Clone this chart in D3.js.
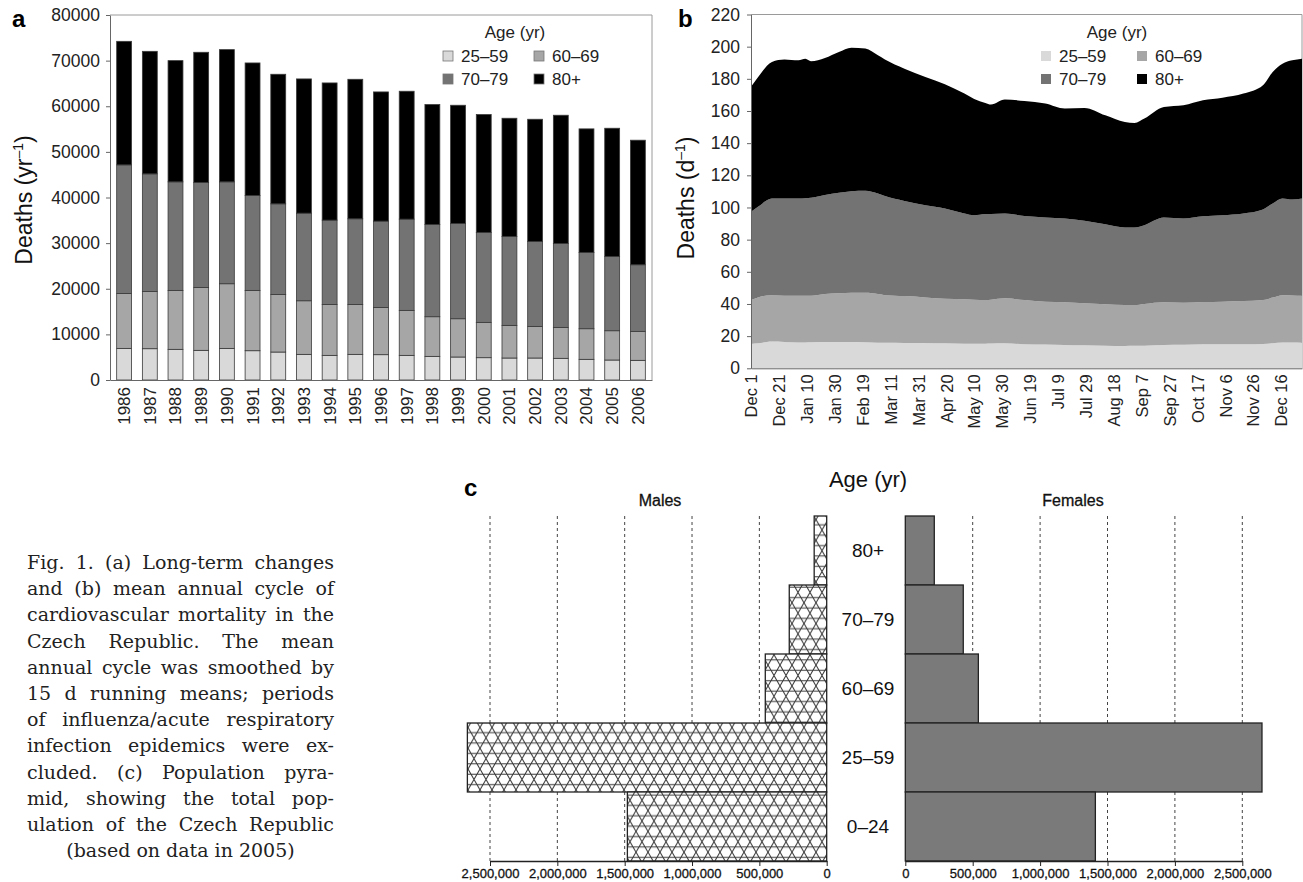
<!DOCTYPE html>
<html><head><meta charset="utf-8">
<script src="https://cdn.jsdelivr.net/npm/d3@7"></script>
<style>
body{margin:0;background:#fff;}
svg{position:absolute;left:0;top:0;}
#caption{position:absolute;left:27px;top:549px;width:307px;font-family:"DejaVu Serif",serif;font-size:19px;color:#222;line-height:26.2px;}
#caption div{text-align:justify;text-align-last:justify;}
#caption div.last{text-align:center;text-align-last:center;}
</style></head>
<body>
<svg id="fig" width="1303" height="882"></svg>
<div id="caption"></div>
<script>
// ---------- Panel a data ----------
const years = ["1986","1987","1988","1989","1990","1991","1992","1993","1994","1995","1996","1997","1998","1999","2000","2001","2002","2003","2004","2005","2006"];
const ageKeys = ["25–59","60–69","70–79","80+"];
const a2559 = [6930,6860,6720,6500,6930,6420,6130,5620,5400,5620,5550,5400,5180,5040,4890,4820,4820,4750,4530,4380,4310];
const a6069 = [12050,12560,12920,13790,14170,13220,12630,11750,11170,10950,10360,9860,8690,8390,7740,7150,6930,6780,6710,6420,6350];
const a7079 = [28170,25760,23790,23000,22330,20800,19850,19200,18470,18760,18910,20000,20220,20880,19710,19490,18620,18400,16720,16280,14600];
const a80   = [27080,26860,26570,28540,28980,29050,28400,29420,30070,30580,28320,28030,26280,25910,25840,25910,26780,28100,27080,28100,27300];
const aTicks = [0,10000,20000,30000,40000,50000,60000,70000,80000];

// ---------- Panel b data (day 0 = Dec 1) ----------
const bDays = [0,5,15,24,34,39,43,53,63,72,82,91,96,110,125,139,153,160,168,172,182,196,211,225,239,254,268,275,282,296,310,324,338,353,367,374,381,388,395];
const b2559 = [15.1,15.5,16.6,16.4,16.1,16.1,16.2,16.4,16.4,16.4,16.2,15.9,15.9,15.8,15.7,15.5,15.3,15.3,15.3,15.4,15.5,15.0,14.8,14.5,14.3,14.1,13.9,14.0,14.1,14.5,14.6,14.9,14.9,14.9,15.1,15.6,16.1,16.0,15.9];
const b6069 = [27.3,28.6,28.9,28.7,29.0,29.0,28.9,29.8,30.2,30.6,30.8,30.3,29.6,29.1,28.4,27.8,27.6,27.3,27.1,27.2,28.0,27.4,26.6,26.5,26.1,25.7,25.4,25.3,25.9,26.6,26.2,26.3,26.5,26.9,27.3,28.4,29.4,29.3,29.2];
const b7079 = [54.9,56.3,60.1,60.5,60.5,60.7,60.9,61.5,62.5,63.1,63.4,62.5,61.7,59.2,57.3,56.1,53.4,52.6,53.5,53.4,52.8,52.3,52.4,52.2,51.3,49.8,48.3,48.3,49.0,52.6,52.4,53.4,53.8,54.5,56.4,58.5,60.1,59.6,60.5];
const b80   = [77.7,80.6,84.9,86.4,85.9,86.7,85.0,85.3,87.6,89.3,88.4,85.9,84.8,82.2,79.8,77.2,74.5,72.3,69.1,68.0,70.8,71.5,70.8,68.3,70.2,67.7,65.6,65.0,66.3,68.8,70.4,72.1,73.1,74.5,77.2,81.8,83.8,86.6,86.9];
const bTickDays = [0,20,40,60,80,100,120,140,160,180,200,220,240,260,280,300,320,340,360,380];
const bTickLabels = ["Dec 1","Dec 21","Jan 10","Jan 30","Feb 19","Mar 11","Mar 31","Apr 20","May 10","May 30","Jun 19","Jul 9","Jul 29","Aug 18","Sep 7","Sep 27","Oct 17","Nov 6","Nov 26","Dec 16"];
const bTicks = [0,20,40,60,80,100,120,140,160,180,200,220];

// ---------- Panel c data ----------
const pyrAges = ["80+","70–79","60–69","25–59","0–24"];
const males   = [93000,278000,456000,2668000,1480000];
const females = [215000,430000,542000,2646000,1410000];
const pyrTicks = [0,500000,1000000,1500000,2000000,2500000];

const captionLines = ["Fig. 1. (a) Long-term changes","and (b) mean annual cycle of","cardiovascular mortality in the","Czech Republic. The mean","annual cycle was smoothed by","15 d running means; periods","of influenza/acute respiratory","infection epidemics were ex-","cluded. (c) Population pyra-","mid, showing the total pop-","ulation of the Czech Republic","(based on data in 2005)"];

const colors = ["#d9d9d9","#a6a6a6","#737373","#000000"];
const FONT = "Liberation Sans, Arial, sans-serif";
const svg = d3.select("#fig").style("font-family", FONT);

function styleAxis(g, col){
  g.select(".domain").attr("stroke", col);
  g.selectAll(".tick line").attr("stroke", col);
  g.selectAll(".tick text").attr("fill","#222");
}

// =============== Panel a ===============
(function(){
  const L=110,R=652,T=15,B=380;
  const x = d3.scaleBand().domain(years).range([L,R]).paddingInner(0.42).paddingOuter(0.26);
  const y = d3.scaleLinear().domain([0,80000]).range([B,T]);
  const rows = years.map((yr,i)=>({year:yr,"25–59":a2559[i],"60–69":a6069[i],"70–79":a7079[i],"80+":a80[i]}));
  const stack = d3.stack().keys(ageKeys)(rows);
  const g = svg.append("g");
  g.append("path").attr("d",`M${L},${T}H${R}V${B}`).attr("fill","none").attr("stroke","#9a9a9a").attr("stroke-width",1);
  stack.forEach((s,k)=>{
    g.append("g").selectAll("rect").data(s).join("rect")
      .attr("x",d=>x(d.data.year)).attr("width",x.bandwidth())
      .attr("y",d=>y(d[1])).attr("height",d=>y(d[0])-y(d[1]))
      .attr("fill",colors[k]).attr("stroke","#3a3a3a").attr("stroke-width",0.8);
  });
  const ya = g.append("g").attr("transform",`translate(${L},0)`)
    .call(d3.axisLeft(y).tickValues(aTicks).tickFormat(d3.format("d")).tickSize(4).tickSizeOuter(0).tickPadding(6));
  ya.selectAll("text").attr("font-size",17.5).attr("font-family",FONT);
  styleAxis(ya,"#666");
  const xa = g.append("g").attr("transform",`translate(0,${B})`)
    .call(d3.axisBottom(x).tickSize(0).tickSizeOuter(0));
  xa.selectAll("text").attr("font-size",17).attr("font-family",FONT)
    .attr("transform","rotate(-90)").attr("text-anchor","end")
    .attr("x",-7).attr("y",0).attr("dy","0.35em");
  styleAxis(xa,"#666");
  g.append("text").attr("transform","translate(32,200) rotate(-90)").attr("text-anchor","middle")
    .attr("font-size",23).attr("fill","#111")
    .call(t=>{t.append("tspan").text("Deaths (yr");t.append("tspan").attr("dy",-9).attr("font-size",14).text("–1");t.append("tspan").attr("dy",9).text(")");});
  g.append("text").attr("x",12).attr("y",27).attr("font-size",24).attr("font-weight","bold").text("a");
  const lg = g.append("g");
  lg.append("text").attr("x",515).attr("y",38).attr("text-anchor","middle").attr("font-size",17).attr("fill","#222").text("Age (yr)");
  const pos=[[443,51],[534,51],[443,74],[534,74]];
  ageKeys.forEach((k,i)=>{
    lg.append("rect").attr("x",pos[i][0]).attr("y",pos[i][1]).attr("width",10).attr("height",10)
      .attr("fill",colors[i]).attr("stroke","#777").attr("stroke-width",0.8);
    lg.append("text").attr("x",pos[i][0]+18).attr("y",pos[i][1]+10.5).attr("font-size",17).attr("fill","#222").text(k);
  });
})();

// =============== Panel b ===============
(function(){
  const L=751,R=1302,T=14.5,B=368.3;
  const x = d3.scaleLinear().domain([0,395]).range([L,R]);
  const y = d3.scaleLinear().domain([0,220]).range([B,T]);
  const rows = bDays.map((d,i)=>({day:d,"25–59":b2559[i],"60–69":b6069[i],"70–79":b7079[i],"80+":b80[i]}));
  const stack = d3.stack().keys(ageKeys)(rows);
  const area = d3.area().x(d=>x(d.data.day)).y0(d=>y(d[0])).y1(d=>y(d[1])).curve(d3.curveMonotoneX);
  const g = svg.append("g");
  g.append("path").attr("d",`M${L},${T}H${R}V${B}`).attr("fill","none").attr("stroke","#9a9a9a").attr("stroke-width",1);
  g.selectAll("path.layer").data(stack).join("path").attr("class","layer")
    .attr("d",area).attr("fill",(d,i)=>colors[i]);
  const ya = g.append("g").attr("transform",`translate(${L},0)`)
    .call(d3.axisLeft(y).tickValues(bTicks).tickSize(4).tickSizeOuter(0).tickPadding(7));
  ya.selectAll("text").attr("font-size",17.5).attr("font-family",FONT);
  styleAxis(ya,"#666");
  const xa = g.append("g").attr("transform",`translate(0,${B})`)
    .call(d3.axisBottom(x).tickValues(bTickDays).tickFormat((d,i)=>bTickLabels[i]).tickSize(0).tickSizeOuter(0));
  xa.selectAll("text").attr("font-size",16.5).attr("font-family",FONT)
    .attr("transform","rotate(-90)").attr("text-anchor","end")
    .attr("x",-6).attr("y",0).attr("dy","0.35em");
  styleAxis(xa,"#666");
  g.append("text").attr("transform","translate(694,198) rotate(-90)").attr("text-anchor","middle")
    .attr("font-size",23).attr("fill","#111")
    .call(t=>{t.append("tspan").text("Deaths (d");t.append("tspan").attr("dy",-9).attr("font-size",14).text("–1");t.append("tspan").attr("dy",9).text(")");});
  g.append("text").attr("x",678).attr("y",27).attr("font-size",24).attr("font-weight","bold").text("b");
  const lg = g.append("g");
  lg.append("text").attr("x",1117).attr("y",38).attr("text-anchor","middle").attr("font-size",17).attr("fill","#222").text("Age (yr)");
  const pos=[[1041,51],[1137,51],[1041,74],[1137,74]];
  ageKeys.forEach((k,i)=>{
    lg.append("rect").attr("x",pos[i][0]).attr("y",pos[i][1]).attr("width",10).attr("height",10).attr("fill",colors[i]);
    lg.append("text").attr("x",pos[i][0]+18).attr("y",pos[i][1]+10.5).attr("font-size",17).attr("fill","#222").text(k);
  });
})();

// =============== Panel c ===============
(function(){
  const T=516,B=861;
  const y = d3.scaleBand().domain(pyrAges).range([T,B]).padding(0);
  const xm = d3.scaleLinear().domain([0,2500000]).range([826.7,490]);
  const xf = d3.scaleLinear().domain([0,2500000]).range([905.3,1242.3]);
  const g = svg.append("g");
  const P=12, H=P*Math.sqrt(3);
  const pat = svg.append("defs").append("pattern").attr("id","hatch").attr("patternUnits","userSpaceOnUse")
    .attr("width",P).attr("height",H);
  pat.append("rect").attr("width",P).attr("height",H).attr("fill","#fff");
  pat.append("path").attr("d",`M0,${H/4}H${P}M0,${3*H/4}H${P}M0,0L${P},${H}M0,${H}L${P},0`)
    .attr("stroke","#3a3a3a").attr("stroke-width",1.1).attr("fill","none");
  [[xm,males,"url(#hatch)"],[xf,females,"#7a7a7a"]].forEach(([x,vals,fill])=>{
    g.append("g").selectAll("line").data(pyrTicks.slice(1)).join("line")
      .attr("x1",d=>x(d)).attr("x2",d=>x(d)).attr("y1",T).attr("y2",B)
      .attr("stroke","#444").attr("stroke-width",1).attr("stroke-dasharray","3,3");
    g.append("g").selectAll("rect").data(pyrAges).join("rect")
      .attr("x",(d,i)=>Math.min(x(0),x(vals[i]))).attr("width",(d,i)=>Math.abs(x(vals[i])-x(0)))
      .attr("y",d=>y(d)).attr("height",y.bandwidth())
      .attr("fill",fill).attr("stroke","#222").attr("stroke-width",1.3);
    const ax = g.append("g").attr("transform",`translate(0,${B})`)
      .call(d3.axisBottom(x).tickValues(pyrTicks).tickFormat(d3.format(",")).tickSize(5).tickSizeOuter(0).tickPadding(3));
    ax.selectAll("text").attr("font-size",13).attr("font-family",FONT).attr("fill","#111")
      .attr("stroke","#111").attr("stroke-width",0.3);
    ax.select(".domain").attr("stroke","#222").attr("stroke-width",1.3);
    ax.selectAll(".tick line").attr("stroke","#222");
  });
  g.append("g").selectAll("text").data(pyrAges).join("text")
    .attr("x",868).attr("y",d=>y(d)+y.bandwidth()/2).attr("dy","0.35em").attr("text-anchor","middle")
    .attr("font-size",19).attr("fill","#111").text(d=>d);
  g.append("text").attr("x",868).attr("y",487).attr("text-anchor","middle").attr("font-size",22).attr("fill","#111").text("Age (yr)");
  g.append("text").attr("x",660).attr("y",506).attr("text-anchor","middle").attr("font-size",16).attr("fill","#111").attr("stroke","#111").attr("stroke-width",0.3).text("Males");
  g.append("text").attr("x",1073).attr("y",506).attr("text-anchor","middle").attr("font-size",16).attr("fill","#111").attr("stroke","#111").attr("stroke-width",0.3).text("Females");
  g.append("text").attr("x",464).attr("y",496).attr("font-size",24).attr("font-weight","bold").text("c");
})();

d3.select("#caption").selectAll("div").data(captionLines).join("div")
  .attr("class",(d,i)=>i===captionLines.length-1?"last":null).text(d=>d);
</script>
</body></html>
